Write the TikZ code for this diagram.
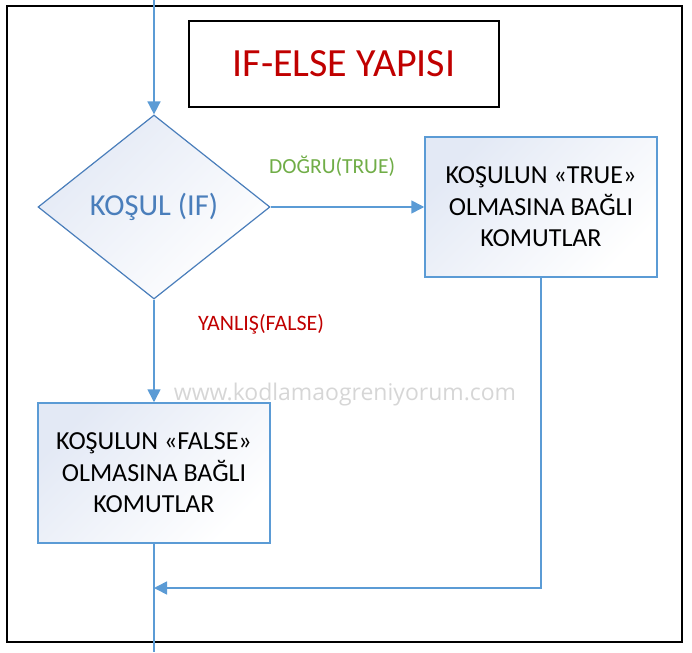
\documentclass[tikz,border=0pt]{standalone}
\usepackage{fontspec}
\setmainfont{Carlito}
\newfontfamily\markfont{Open Sans}
\usetikzlibrary{arrows.meta,positioning,shapes.geometric}

\definecolor{flowblue}{HTML}{5B9BD5}
\definecolor{condblue}{HTML}{4A7EBB}
\definecolor{darkred}{HTML}{C00000}
\definecolor{truegreen}{HTML}{70AD47}
\definecolor{boxfill}{HTML}{E3E9F5}

\begin{document}
\begin{tikzpicture}[
        x=1pt, y=-1pt,
        flow/.style={draw=flowblue, line width=1.6pt},
        arrow/.style={flow, -{Triangle[length=13pt,width=13pt]}},
        paleshade/.style={top color=boxfill, bottom color=white, shading angle=45},
        cmdbox/.style={rectangle, draw=flowblue, line width=1.5pt,
            minimum width=232pt, minimum height=140pt, align=center,
            font=\fontsize{26}{31.5}\selectfont, paleshade}
    ]
    \useasboundingbox (0,0) rectangle (692,652);

    % outer frame
    \draw[line width=2.2pt] (7,6) rectangle (682,642) ;

    \node[draw, line width=2pt, minimum width=310pt, minimum height=86pt,
        text=darkred, font=\fontsize{40}{44}\selectfont] (title) at (344,64) {IF-ELSE YAPISI} ;

    \node[diamond, aspect=1.26, draw=condblue, line width=1.2pt, inner sep=0pt,
        minimum width=232pt, minimum height=184pt, paleshade,
        text=condblue, font=\fontsize{30.5}{34}\selectfont] (cond) at (154,207) {KOŞUL (IF)} ;

    \node[cmdbox] (truebox) at (541,207) {KOŞULUN «TRUE»\\OLMASINA BAĞLI\\KOMUTLAR} ;
    \node[cmdbox] (falsebox) at (154,473) {KOŞULUN «FALSE»\\OLMASINA BAĞLI\\KOMUTLAR} ;

    \node[text=black!16, font=\markfont\fontsize{23}{26}\selectfont] (watermark) at (345,395) {www.kodlamaogreniyorum.com} ;

    \coordinate (entry) at (154,0) ;
    \coordinate (join) at (154,588) ;
    \coordinate (exit) at (154,652) ;

    \draw[arrow] (entry) -- (cond.north) ;
    \draw[arrow] (cond.east) -- (truebox.west)
        node[pos=0.4, above=26pt, text=truegreen, font=\fontsize{21.5}{24}\selectfont] (truelabel) {DOĞRU(TRUE)} ;
    \draw[arrow] (cond.south) -- (falsebox.north)
        node[pos=0.24, right=40pt, text=darkred, font=\fontsize{22}{24}\selectfont] (falselabel) {YANLIŞ(FALSE)} ;
    \draw[arrow] (truebox.south) |- (join) ;
    \draw[flow] (falsebox.south) -- (exit) ;

\end{tikzpicture}
\end{document}
